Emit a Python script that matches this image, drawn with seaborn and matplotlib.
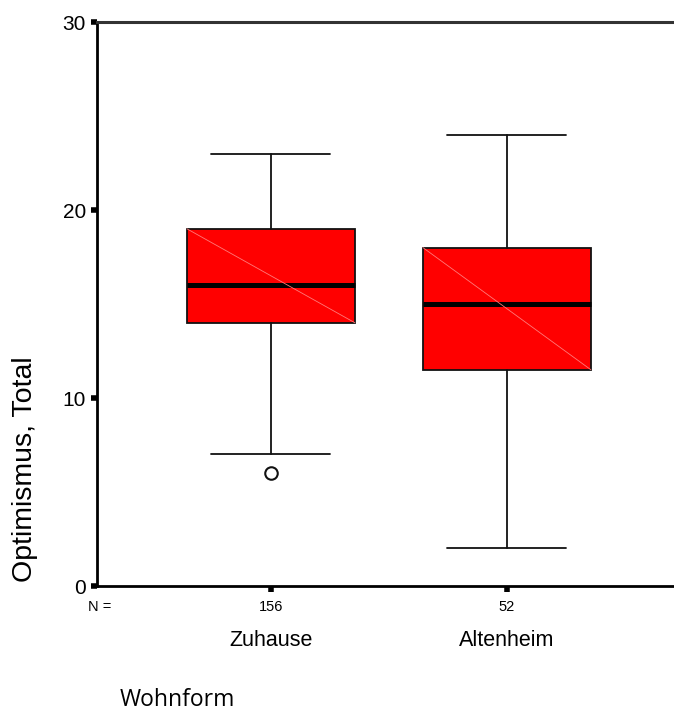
import matplotlib
matplotlib.use("Agg")
import matplotlib.pyplot as plt
import seaborn as sns

# Summary statistics per housing group
groups = ["Zuhause", "Altenheim"]
counts = [156, 52]
whisker_low = [7, 2]
q1 = [14, 11.5]
median = [16, 15]
q3 = [19, 18]
whisker_high = [23, 24]
outliers = [[6], []]

sns.set_theme(style="white")
plt.rcParams["font.family"] = ["Liberation Sans", "DejaVu Sans"]
plt.rcParams["text.color"] = "black"
plt.rcParams["xtick.color"] = "black"
plt.rcParams["ytick.color"] = "black"

fig = plt.figure(figsize=(6.74, 7.2), dpi=100)
ax = fig.add_axes([97 / 674, 1 - 586 / 720, 1 - 97 / 674, (586 - 22) / 720])

stats = []
for i, g in enumerate(groups):
    stats.append({
        "label": g,
        "whislo": whisker_low[i],
        "q1": q1[i],
        "med": median[i],
        "q3": q3[i],
        "whishi": whisker_high[i],
        "fliers": outliers[i],
    })

positions = list(range(len(groups)))
box_w = 0.712
ax.bxp(
    stats, positions=positions, widths=box_w, capwidths=0.504,
    patch_artist=True, showfliers=True,
    boxprops=dict(facecolor="#ff0000", edgecolor="#111111", linewidth=1.3),
    medianprops=dict(color="black", linewidth=3.6, solid_capstyle="butt"),
    whiskerprops=dict(color="#111111", linewidth=1.3),
    capprops=dict(color="#111111", linewidth=1.3),
    flierprops=dict(marker="o", markerfacecolor="none", markeredgecolor="#111111",
                    markersize=9, markeredgewidth=1.5),
)

# faint diagonal across each box
for i in positions:
    ax.plot([i - box_w / 2, i + box_w / 2], [q3[i], q1[i]],
            color="#ff7a7a", linewidth=0.6, zorder=3)

ax.set_ylim(0, 30)
ax.set_xlim(-0.737, 1.708)
ax.set_yticks([0, 10, 20, 30])
ax.set_yticklabels(["0", "10", "20", "30"], fontsize=15)
ax.set_xticks(positions)
ax.set_xticklabels([str(c) for c in counts], fontsize=10.5)

for side in ["left", "bottom"]:
    ax.spines[side].set_color("black")
    ax.spines[side].set_linewidth(2)
ax.spines["top"].set_color("#333333")
ax.spines["top"].set_linewidth(2.2)
ax.spines["right"].set_visible(False)
ax.tick_params(axis="both", which="major", direction="out", length=4, width=4,
               color="black", left=True, bottom=True)
ax.tick_params(axis="y", pad=4)
ax.tick_params(axis="x", pad=6)

# N = label and group names below the count labels
ax.text(-0.775, -1.1, "N =", fontsize=10.5, ha="left", va="center",
        transform=ax.transData, clip_on=False)
for i, g in enumerate(groups):
    ax.text(i, -2.9, g, fontsize=15.5, ha="center", va="center", clip_on=False)

fig.text(120 / 674, 1 - 700 / 720, "Wohnform", fontsize=16.5, ha="left",
         va="center", family=["Open Sans", "DejaVu Sans"])
fig.text(25 / 674, 1 - 469 / 720, "Optimismus, Total", fontsize=20.5,
         rotation=90, ha="center", va="center")

fig.savefig("out.png", dpi=100)
